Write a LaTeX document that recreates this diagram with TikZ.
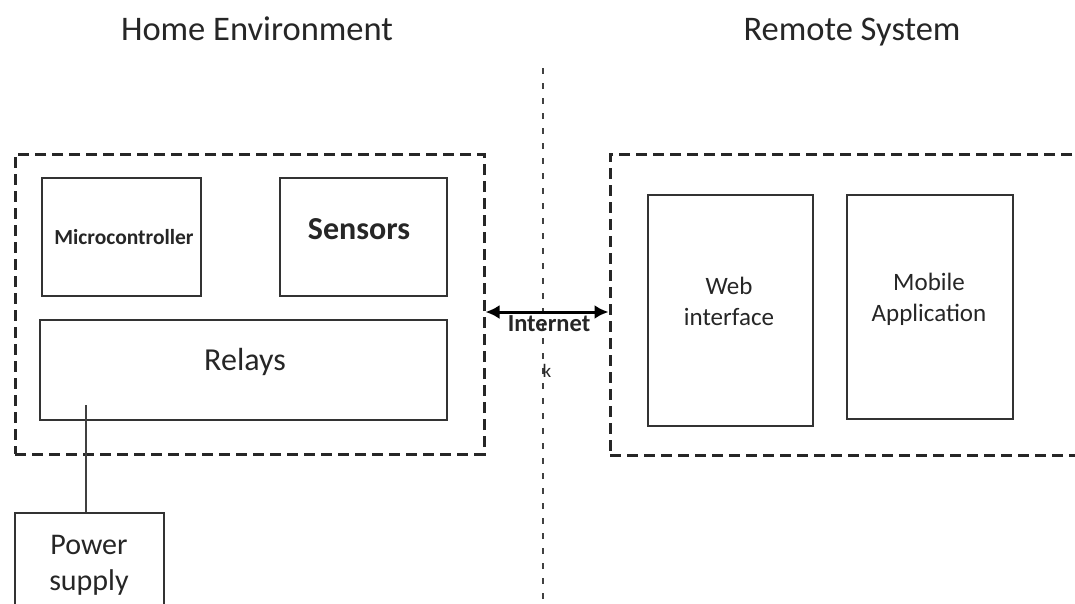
\documentclass[tikz,border=0pt]{standalone}
\usepackage{fontspec}
\setmainfont{Carlito}
\usetikzlibrary{arrows.meta}
\tikzset{
  region/.style={draw=black!85, line width=3pt, dash pattern=on 11pt off 6pt, inner sep=0pt},
  block/.style={draw=black!80, line width=1.6pt, inner sep=0pt},
  txt/.style={text=black!85, inner sep=0pt, align=center, anchor=base},
  divider/.style={draw=black!75, line width=2pt, dash pattern=on 6pt off 9pt},
  link/.style={draw=black, line width=3pt, {Latex[length=14pt,width=14pt]}-{Latex[length=14pt,width=14pt]}},
  wire/.style={draw=black!75, line width=1.4pt}
}
\begin{document}
\begin{tikzpicture}[x=1pt,y=-1pt]
\useasboundingbox (0,0) rectangle (1075,603);
\clip (0,0) rectangle (1075,603);
\fill[white] (0,0) rectangle (1075,603);
% titles
\node[txt, font=\fontsize{34.5}{40}\selectfont] (t1) at (257,40) {Home Environment};
\node[txt, font=\fontsize{34.5}{40}\selectfont] (t2) at (852,40) {Remote System};
% divider
\coordinate (vt) at (543,68);
\coordinate (vb) at (543,615);
\draw[divider] (vt) -- (vb);
% regions
\node[region, minimum width=469pt, minimum height=300pt] (home) at (249.5,304) {};
\node[region, minimum width=480pt, minimum height=301pt] (remote) at (850,304.5) {};
% home blocks
\node[block, minimum width=159pt, minimum height=118pt] (mc) at (121.5,237) {};
\node[txt, font=\fontsize{21.5}{25}\selectfont\bfseries] at (124,244) {Microcontroller};
\node[block, minimum width=167pt, minimum height=118pt] (sens) at (363.5,237) {};
\node[txt, font=\fontsize{32}{38}\selectfont\bfseries] at (359,239) {Sensors};
\node[block, minimum width=407pt, minimum height=100pt] (relays) at (243.5,370) {};
\node[txt, font=\fontsize{32}{38}\selectfont] at (245,370) {Relays};
% power supply
\node[block, minimum width=149pt, minimum height=110pt] (power) at (89.5,568) {};
\node[txt, font=\fontsize{30}{36}\selectfont] at (89,590) {Power\\supply};
\coordinate (pl) at (86,405);
\draw[wire] (pl) -- (pl |- power.north);
% remote blocks
\node[block, minimum width=165pt, minimum height=231pt] (web) at (730.5,310.5) {};
\node[txt, font=\fontsize{25}{31}\selectfont] at (729,325) {Web\\interface};
\node[block, minimum width=166pt, minimum height=224pt] (mob) at (930,307) {};
\node[txt, font=\fontsize{25}{31}\selectfont] at (929,321) {Mobile\\Application};
% internet link
\draw[link] ([yshift=-8pt]home.east) -- ([yshift=-8pt]home.east -| remote.west);
\node[txt, font=\fontsize{24.5}{28}\selectfont\bfseries] (inet) at (549,331) {Internet};
\node[txt, font=\fontsize{19}{22}\selectfont] (k) at (547,377) {k};
\end{tikzpicture}
\end{document}
